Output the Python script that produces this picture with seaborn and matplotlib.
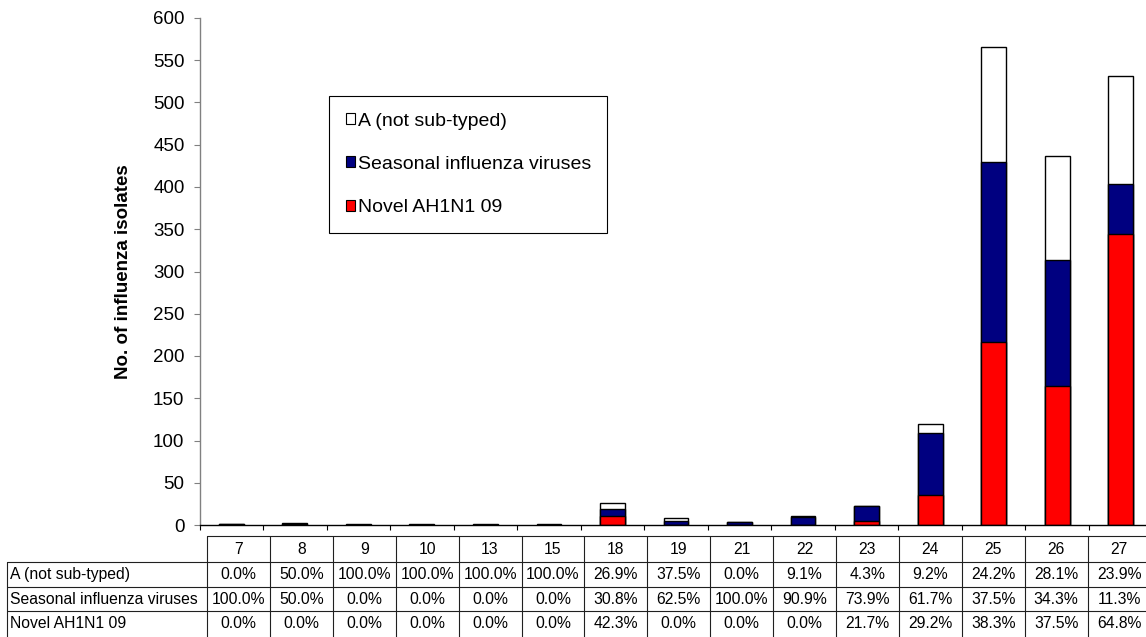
import numpy as np
import pandas as pd
import matplotlib
matplotlib.use("Agg")
import matplotlib.pyplot as plt
import seaborn as sns
from matplotlib.patches import Patch

# ---- data ----
weeks = ['7', '8', '9', '10', '13', '15', '18', '19', '21', '22', '23', '24', '25', '26', '27']
novel = [0, 0, 0, 0, 0, 0, 11, 0, 0, 0, 5, 35, 217, 164, 344]
seasonal = [1, 1, 0, 0, 0, 0, 8, 5, 4, 10, 17, 74, 212, 150, 60]
a_not_subtyped = [0, 1, 1, 1, 1, 1, 7, 3, 0, 1, 1, 11, 137, 123, 127]

pct_a = [0.0, 50.0, 100.0, 100.0, 100.0, 100.0, 26.9, 37.5, 0.0, 9.1, 4.3, 9.2, 24.2, 28.1, 23.9]
pct_seasonal = [100.0, 50.0, 0.0, 0.0, 0.0, 0.0, 30.8, 62.5, 100.0, 90.9, 73.9, 61.7, 37.5, 34.3, 11.3]
pct_novel = [0.0, 0.0, 0.0, 0.0, 0.0, 0.0, 42.3, 0.0, 0.0, 0.0, 21.7, 29.2, 38.3, 37.5, 64.8]

series_labels = ['A (not sub-typed)', 'Seasonal influenza viruses', 'Novel AH1N1 09']
yticks = [0, 50, 100, 150, 200, 250, 300, 350, 400, 450, 500, 550, 600]

# ---- style ----
sns.set_theme(style="white")
plt.rcParams['font.family'] = ['Liberation Sans', 'DejaVu Sans']
plt.rcParams['text.color'] = 'black'
plt.rcParams['axes.labelcolor'] = 'black'
plt.rcParams['xtick.color'] = 'black'
plt.rcParams['ytick.color'] = 'black'

W, H = 1146, 637
fig = plt.figure(figsize=(W / 100, H / 100), dpi=100)

# overlay in pixel coordinates for the data table
tax = fig.add_axes([0, 0, 1, 1])
tax.set_xlim(0, W)
tax.set_ylim(H, 0)
tax.axis('off')

# main plot axes (plot area extends slightly past the right image edge)
ax_left, ax_w = 199.5, 953.0
ax = fig.add_axes([ax_left / W, 1 - 525 / H, ax_w / W, 507 / H])

df = pd.DataFrame({
    'week': weeks,
    'novel': novel,
    'seasonal': seasonal,
    'a': a_not_subtyped,
})
df['lvl1'] = df['novel']
df['lvl2'] = df['novel'] + df['seasonal']
df['lvl3'] = df['lvl2'] + df['a']

col_white, col_navy, col_red = '#FFFFFF', '#000080', '#FF0000'
common = dict(x='week', order=weeks, width=0.39, edgecolor='black', linewidth=1.0,
              saturation=1, ax=ax, errorbar=None)
sns.barplot(data=df, y='lvl3', color=col_white, **common)
sns.barplot(data=df, y='lvl2', color=col_navy, **common)
sns.barplot(data=df, y='lvl1', color=col_red, **common)

ax.set_xlim(-0.5, len(weeks) - 0.5)
ax.set_ylim(0, 600)
ax.set_yticks(yticks)
ax.set_yticklabels([str(v) for v in yticks], fontsize=13.5, color='black')
ax.set_xlabel('')
ax.set_ylabel('No. of influenza isolates', fontsize=13.5, fontweight='bold', color='black')
ax.yaxis.set_label_coords((132.5 - ax_left) / ax_w, 0.5)

ax.set_xticks(np.arange(-0.5, len(weeks), 1.0), minor=True)
ax.tick_params(axis='x', which='major', length=0, labelbottom=False)
ax.tick_params(axis='x', which='minor', length=3.6, width=0.8, color='black', direction='out', bottom=True)
ax.tick_params(axis='y', which='major', length=4.3, width=0.8, color='#808080', labelcolor='black',
               direction='out', left=True, pad=6.5)

for s in ['top', 'right']:
    ax.spines[s].set_visible(False)
ax.spines['left'].set_color('#808080')
ax.spines['left'].set_linewidth(1.0)
ax.spines['bottom'].set_color('black')
ax.spines['bottom'].set_linewidth(1.0)

# ---- legend ----
handles = [Patch(facecolor=col_white, edgecolor='black', linewidth=0.8),
           Patch(facecolor=col_navy, edgecolor='black', linewidth=0.8),
           Patch(facecolor=col_red, edgecolor='black', linewidth=0.8)]
leg = fig.legend(handles, series_labels, loc='upper left',
                 bbox_to_anchor=(329 / W, 1 - 96 / H), bbox_transform=fig.transFigure,
                 frameon=True, fancybox=False, edgecolor='black', framealpha=1,
                 fontsize=14, handlelength=0.5, handleheight=0.5, handletextpad=0.12,
                 labelspacing=1.35, borderpad=0.85, borderaxespad=0, labelcolor='black')
leg.get_frame().set_linewidth(0.8)

# ---- data table (drawn in pixel coordinates) ----
rows_pct = [pct_a, pct_seasonal, pct_novel]
tbl_fs = 11.3
lab_x0, col_x0, col_w = 7.0, 207.0, 62.9
row_edges = [536.0, 562.0, 586.5, 610.5, 640.0]
col_edges = [col_x0 + i * col_w for i in range(len(weeks) + 1)]
lc = '#202020'
lw = 0.8
# horizontal lines
tax.plot([col_x0, col_edges[-1]], [row_edges[0]] * 2, color=lc, lw=lw)
for yv in row_edges[1:4]:
    tax.plot([lab_x0, col_edges[-1]], [yv, yv], color=lc, lw=lw)
# vertical lines
tax.plot([lab_x0, lab_x0], [row_edges[1], row_edges[4]], color=lc, lw=lw)
for xv in col_edges:
    tax.plot([xv, xv], [row_edges[0], row_edges[4]], color=lc, lw=lw)

# header
for i, wk in enumerate(weeks):
    cx = (col_edges[i] + col_edges[i + 1]) / 2
    tax.text(cx, (row_edges[0] + row_edges[1]) / 2 + 0.5, wk, ha='center', va='center',
             fontsize=tbl_fs, color='black')
# body
for r, (lab, vals) in enumerate(zip(series_labels, rows_pct)):
    cy = (row_edges[r + 1] + min(row_edges[r + 2], 636)) / 2 + 0.5
    tax.text(lab_x0 + 2.5, cy, lab, ha='left', va='center', fontsize=tbl_fs, color='black')
    for i, v in enumerate(vals):
        cx = (col_edges[i] + col_edges[i + 1]) / 2
        tax.text(cx, cy, f"{v:.1f}%", ha='center', va='center', fontsize=tbl_fs, color='black')

fig.savefig('out.png', dpi=100)
